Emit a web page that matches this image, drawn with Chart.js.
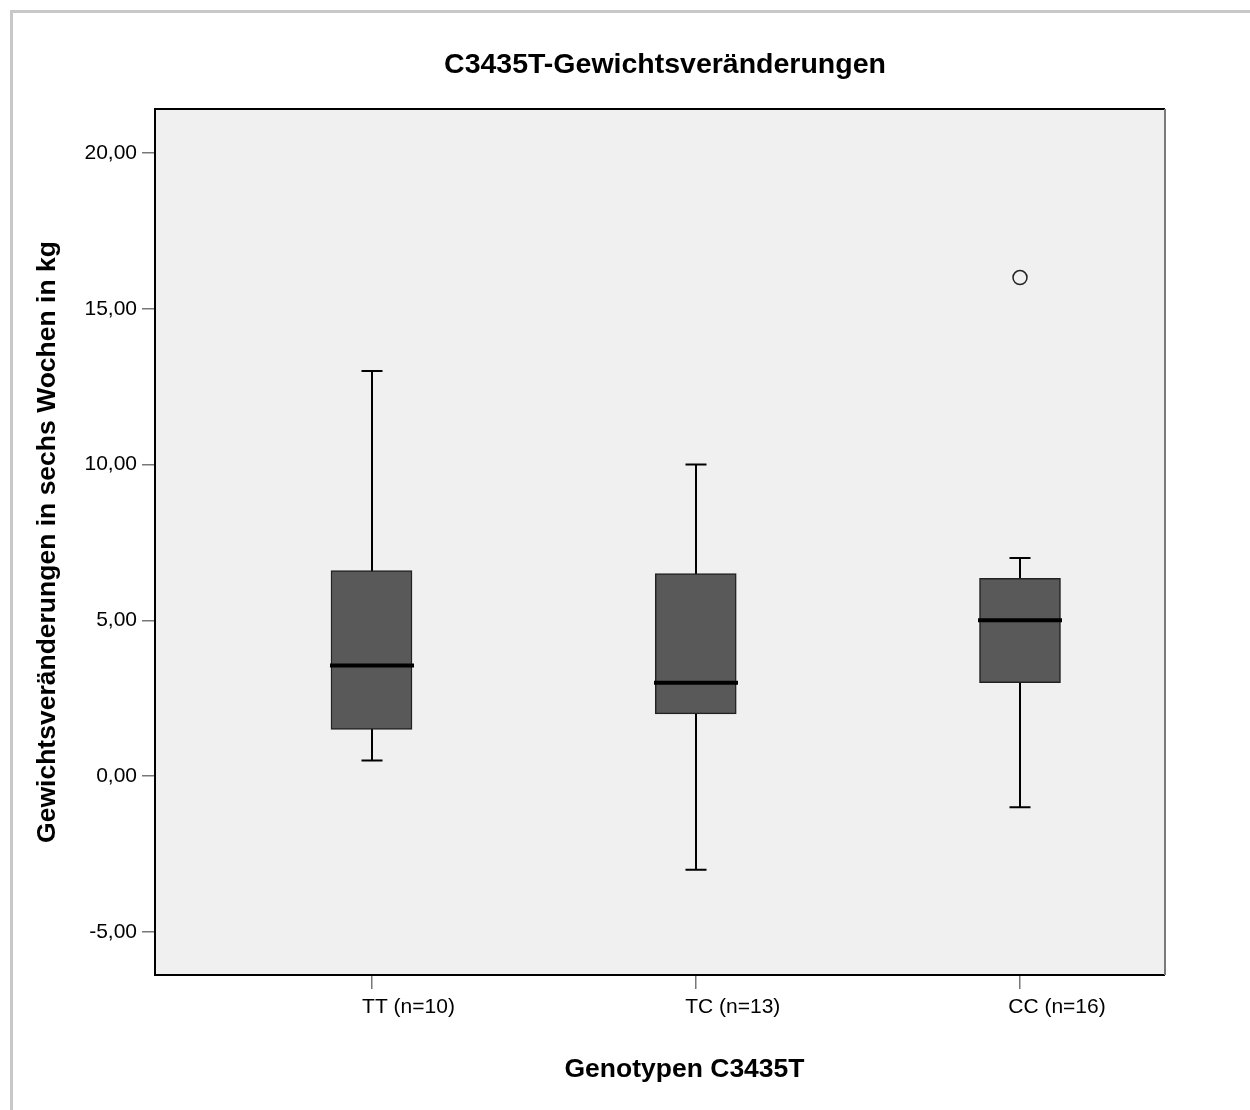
<!DOCTYPE html>
<html>
<head>
<meta charset="utf-8">
<script src="https://cdn.jsdelivr.net/npm/chart.js@4.4.1/dist/chart.umd.min.js"></script>
<style>
html,body{margin:0;padding:0;background:#fff;}
#wrap{width:1250px;height:1110px;position:relative;}
</style>
</head>
<body>
<div id="wrap"><canvas id="c" width="1250" height="1110"></canvas></div>
<script>
// ---- data ----
const categories = ['TT (n=10)', 'TC (n=13)', 'CC (n=16)'];
const categoryPos = [1, 2, 3];
const whiskerLow = [0.5, -3, -1];
const q1 = [1.5, 2, 3];
const median = [3.55, 3, 5];
const q3 = [6.6, 6.5, 6.35];
const whiskerHigh = [13, 10, 7];
const outlierCategory = [3];
const outlierValue = [16];
const yTicks = [-5, 0, 5, 10, 15, 20];

const chartTitle = 'C3435T-Gewichtsveränderungen';
const xTitle = 'Genotypen C3435T';
const yTitle = 'Gewichtsveränderungen in sechs Wochen in kg';

const FONT = "'Liberation Sans', Arial, sans-serif";

const boxPlugin = {
  id: 'boxPlugin',
  beforeDraw(chart) {
    const ctx = chart.ctx, a = chart.chartArea;
    ctx.save();
    ctx.fillStyle = '#ffffff';
    ctx.fillRect(0, 0, chart.width, chart.height);
    // outer frame
    ctx.strokeStyle = '#c8c8c8';
    ctx.lineWidth = 3;
    ctx.beginPath();
    ctx.moveTo(11.5, chart.height);
    ctx.lineTo(11.5, 11.5);
    ctx.lineTo(chart.width, 11.5);
    ctx.stroke();
    // plot background
    ctx.fillStyle = '#f0f0f0';
    ctx.fillRect(a.left, a.top, a.right - a.left, a.bottom - a.top);
    ctx.restore();
  },
  beforeDatasetsDraw(chart) {
    const ctx = chart.ctx, xs = chart.scales.x, ys = chart.scales.y;
    ctx.save();
    ctx.strokeStyle = '#000';
    ctx.lineWidth = 2;
    categoryPos.forEach((p, i) => {
      const x = Math.round(xs.getPixelForValue(p));
      const yl = ys.getPixelForValue(whiskerLow[i]);
      const yh = ys.getPixelForValue(whiskerHigh[i]);
      ctx.beginPath();
      ctx.moveTo(x, yh); ctx.lineTo(x, yl);
      ctx.moveTo(x - 10.5, yh); ctx.lineTo(x + 10.5, yh);
      ctx.moveTo(x - 10.5, yl); ctx.lineTo(x + 10.5, yl);
      ctx.stroke();
    });
    ctx.restore();
  },
  afterDatasetsDraw(chart) {
    const ctx = chart.ctx, xs = chart.scales.x, ys = chart.scales.y, a = chart.chartArea;
    ctx.save();
    ctx.strokeStyle = '#000';
    ctx.lineWidth = 4;
    categoryPos.forEach((p, i) => {
      const x = Math.round(xs.getPixelForValue(p));
      const ym = ys.getPixelForValue(median[i]);
      ctx.beginPath();
      ctx.moveTo(x - 42, ym); ctx.lineTo(x + 42, ym);
      ctx.stroke();
    });
    // plot border
    ctx.lineWidth = 2;
    ctx.strokeStyle = '#000';
    ctx.beginPath();
    ctx.moveTo(a.right, a.top); ctx.lineTo(a.left, a.top); ctx.lineTo(a.left, a.bottom); ctx.lineTo(a.right, a.bottom);
    ctx.stroke();
    ctx.strokeStyle = '#7a7a7a';
    ctx.beginPath();
    ctx.moveTo(a.right, a.top); ctx.lineTo(a.right, a.bottom);
    ctx.stroke();
    // titles
    ctx.fillStyle = '#000';
    ctx.textAlign = 'center';
    ctx.textBaseline = 'alphabetic';
    ctx.font = 'bold 28.5px ' + FONT;
    ctx.fillText(chartTitle, (a.left + a.right) / 2 + 5, 73);
    ctx.font = 'bold 26.5px ' + FONT;
    ctx.fillText(xTitle, 684.5, 1077);
    ctx.save();
    ctx.translate(55, (a.top + a.bottom) / 2);
    ctx.rotate(-Math.PI / 2);
    ctx.fillText(yTitle, 0, 0);
    ctx.restore();
    ctx.restore();
  }
};

const ctx = document.getElementById('c').getContext('2d');
new Chart(ctx, {
  type: 'bar',
  data: {
    datasets: [
      {
        type: 'bar',
        data: categoryPos.map((p, i) => ({ x: p, y: [q1[i], q3[i]] })),
        backgroundColor: '#595959',
        borderColor: '#222222',
        borderWidth: 1.5,
        borderSkipped: false,
        barThickness: 81
      },
      {
        type: 'scatter',
        data: outlierCategory.map((c, i) => ({ x: c, y: outlierValue[i] })),
        pointStyle: 'circle',
        pointRadius: 7,
        pointBackgroundColor: 'rgba(0,0,0,0)',
        pointBorderColor: '#222222',
        pointBorderWidth: 1.5
      }
    ]
  },
  options: {
    responsive: false,
    animation: false,
    layout: { padding: { top: 109, right: 85, bottom: 0, left: 0 } },
    plugins: { legend: { display: false }, tooltip: { enabled: false }, title: { display: false } },
    scales: {
      x: {
        type: 'linear',
        offset: false,
        min: 0.3323,
        max: 3.4472,
        afterFit(s) { s.height = 135; },
        afterBuildTicks(s) { s.ticks = categoryPos.map(v => ({ value: v })); },
        grid: { display: true, offset: false, drawOnChartArea: false, drawTicks: true, tickLength: 14, color: '#777777', lineWidth: 1.5 },
        border: { display: false },
        ticks: {
          color: '#000',
          font: { family: FONT, size: 21 },
          padding: 6,
          labelOffset: 37,
          maxRotation: 0,
          autoSkip: false,
          callback: (v) => { const i = categoryPos.indexOf(v); return i >= 0 ? categories[i] : ''; }
        }
      },
      y: {
        type: 'linear',
        min: -6.38,
        max: 21.41,
        afterFit(s) { s.width = 155; },
        afterBuildTicks(s) { s.ticks = yTicks.map(v => ({ value: v })); },
        grid: { display: true, drawOnChartArea: false, drawTicks: true, tickLength: 13, color: '#777777', lineWidth: 1.5 },
        border: { display: false },
        ticks: {
          color: '#000',
          font: { family: FONT, size: 21 },
          padding: 5,
          callback: (v) => v.toFixed(2).replace('.', ',')
        }
      }
    }
  },
  plugins: [boxPlugin]
});
</script>
</body>
</html>
